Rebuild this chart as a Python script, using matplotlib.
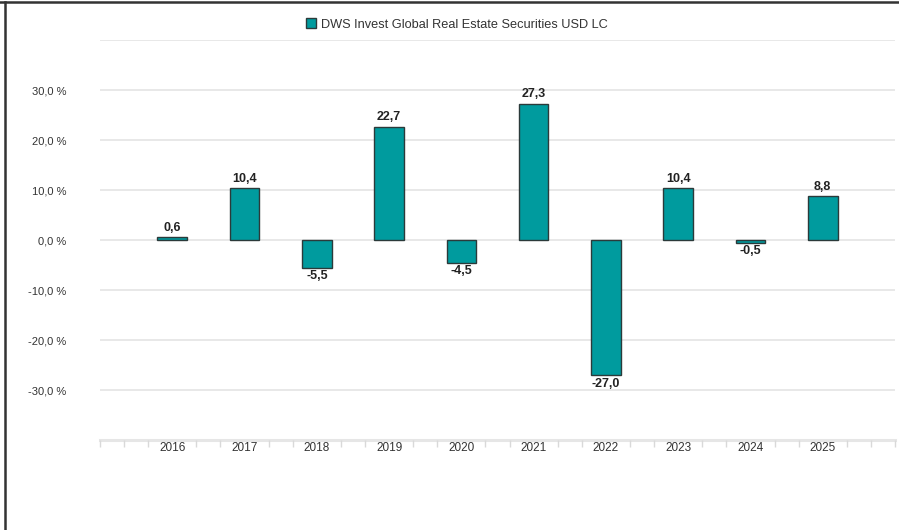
import matplotlib
matplotlib.use("Agg")
import matplotlib.pyplot as plt
from matplotlib.lines import Line2D
from matplotlib.patches import Rectangle

years = [2016, 2017, 2018, 2019, 2020, 2021, 2022, 2023, 2024, 2025]
returns = [0.6, 10.4, -5.5, 22.7, -4.5, 27.3, -27.0, 10.4, -0.5, 8.8]
series_name = "DWS Invest Global Real Estate Securities USD LC"
y_ticks = [-30, -20, -10, 0, 10, 20, 30]

bar_color = "#009b9e"
edge_color = "#2b3a3a"
grid_color = "#e6e6e6"
text_color = "#333333"

plt.rcParams["font.family"] = ["Liberation Sans", "DejaVu Sans"]


def fmt(v):
    return f"{v:.1f}".replace(".", ",")


fig = plt.figure(figsize=(8.99, 5.30), dpi=100)
ax = fig.add_axes([100 / 899, 1 - 440 / 530, 795 / 899, 400 / 530])

ax.set_xlim(2015, 2026)
ax.set_ylim(-40, 40)

# grid
for g in range(-30, 50, 10):
    ax.axhline(g, color=grid_color, linewidth=1.3, zorder=0)
ax.axhline(-40, color=grid_color, linewidth=2.2, zorder=0, clip_on=False)

bars = ax.bar(years, returns, width=0.41, color=bar_color,
              edgecolor=edge_color, linewidth=1.0, zorder=3)

for x, v in zip(years, returns):
    if v >= 0:
        ax.annotate(fmt(v), (x, v), xytext=(0, 2.5), textcoords="offset points",
                    ha="center", va="bottom", fontsize=9, color="#222222",
                    fontweight="bold")
    else:
        ax.annotate(fmt(v), (x, v), xytext=(0, -2), textcoords="offset points",
                    ha="center", va="top", fontsize=9, color="#222222",
                    fontweight="bold")

# axes styling
for s in ax.spines.values():
    s.set_visible(False)

ax.set_yticks(y_ticks)
ax.set_yticklabels([fmt(t) + " %" for t in y_ticks])
ax.tick_params(axis="y", length=0, pad=24, labelsize=8, labelcolor=text_color)

ax.set_xticks(years)
ax.set_xticklabels([str(y) for y in years])
ax.tick_params(axis="x", length=0, pad=1.5, labelsize=8.5, labelcolor=text_color)

minor = [2015 + k / 3 for k in range(34) if k % 3 != 0 or k in (0, 33)]
ax.set_xticks(minor, minor=True)
ax.tick_params(axis="x", which="minor", length=5, width=1, color="#d9d9d9")

# legend
fig.legend([Rectangle((0, 0), 1, 1, facecolor=bar_color, edgecolor=edge_color)],
           [series_name], loc="center", bbox_to_anchor=(457 / 899, 1 - 24.5 / 530),
           frameon=False, fontsize=9.2, handlelength=0.8, handleheight=0.8,
           handletextpad=0.4, borderpad=0, labelcolor=text_color)

# frame around the image (top and left)
fig.add_artist(Line2D([0, 1], [1 - 2 / 530, 1 - 2 / 530], color="#333333", linewidth=1.8))
fig.add_artist(Line2D([4.5 / 899, 4.5 / 899], [0, 1 - 2 / 530], color="#333333", linewidth=1.8))

fig.savefig("out.png", dpi=100)
